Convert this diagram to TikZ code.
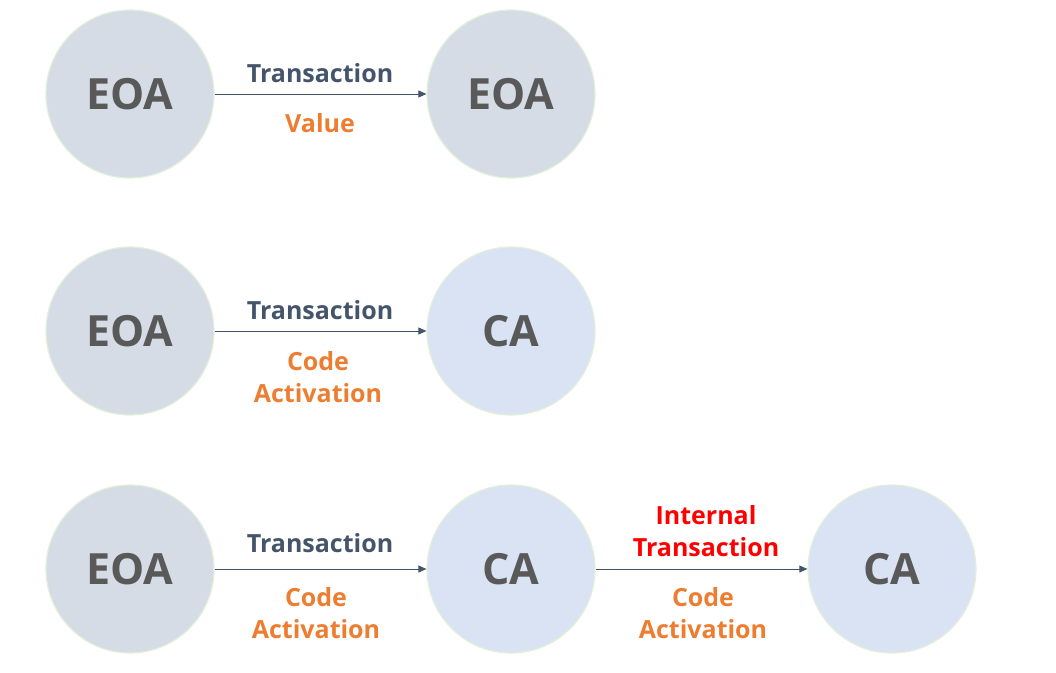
\documentclass[tikz,border=0pt]{standalone}
\usepackage{fontspec}
\setmainfont{Open Sans}
\usetikzlibrary{arrows.meta}
\definecolor{eoafill}{HTML}{D6DCE5}
\definecolor{cafill}{HTML}{DAE3F3}
\definecolor{ringc}{HTML}{E2F0D9}
\definecolor{nodetext}{HTML}{595959}
\definecolor{txc}{HTML}{44546A}
\definecolor{orangec}{HTML}{ED7D31}
\definecolor{redc}{HTML}{FF0000}
\tikzset{
  acct/.style={circle, draw=ringc, line width=1.2pt, minimum size=168pt, inner sep=0pt,
    text=nodetext, font=\fontsize{43}{50}\selectfont\bfseries},
  eoa/.style={acct, fill=eoafill},
  ca/.style={acct, fill=cafill},
  conn/.style={draw=txc, line width=0.8pt, -{Triangle[length=8pt,width=7pt]}},
  lbl/.style={font=\fontsize{25}{32}\selectfont\bfseries, align=center, inner sep=0pt},
  txlbl/.style={lbl, text=txc},
  orlbl/.style={lbl, text=orangec},
  redlbl/.style={lbl, text=redc}
}
\begin{document}
\begin{tikzpicture}[x=1pt,y=-1pt]
\useasboundingbox (0,0) rectangle (1056,672);
% row 1
\node[eoa] (a1) at (130,94) {EOA};
\node[eoa] (b1) at (511,94) {EOA};
\draw[conn] (a1) -- (b1);
\node[txlbl] (t1) at (320,73) {Transaction};
\node[orlbl] (v1) at (320,123) {Value};
% row 2
\node[eoa] (a2) at (130,331) {EOA};
\node[ca] (b2) at (511,331) {CA};
\draw[conn] (a2) -- (b2);
\node[txlbl] (t2) at (320,310) {Transaction};
\node[orlbl] (v2) at (318,377) {Code\\Activation};
% row 3
\node[eoa] (a3) at (130,569) {EOA};
\node[ca] (b3) at (511,569) {CA};
\node[ca] (c3) at (892,569) {CA};
\draw[conn] (a3) -- (b3);
\draw[conn] (b3) -- (c3);
\node[txlbl] (t3) at (320,543) {Transaction};
\node[orlbl] (v3) at (316,613) {Code\\Activation};
\node[redlbl] (t4) at (706,531) {Internal\\Transaction};
\node[orlbl] (v4) at (703,613) {Code\\Activation};
\end{tikzpicture}
\end{document}
